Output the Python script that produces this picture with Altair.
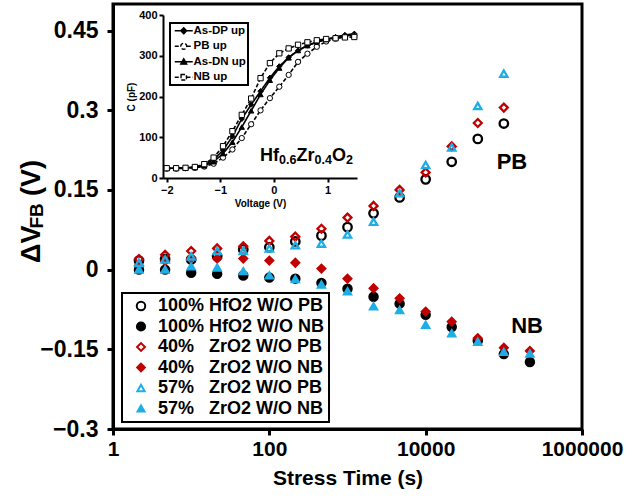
import altair as alt
import pandas as pd

FONT = "Liberation Sans"

# ---------------- main chart data ----------------
stress_time = [2.15, 4.64, 10, 21.5, 46.4, 100, 215, 464, 1000, 2154, 4642,
               10000, 21544, 46416, 100000, 215443]

series_names = [
    "100% HfO2 W/O PB",
    "100% HfO2 W/O NB",
    "40%\u00a0\u00a0 ZrO2 W/O PB",
    "40%\u00a0\u00a0 ZrO2 W/O NB",
    "57%\u00a0\u00a0 ZrO2 W/O PB",
    "57%\u00a0\u00a0 ZrO2 W/O NB",
]

hf_pb = [0.017, 0.020, 0.019, 0.025, 0.038, 0.042, 0.053, 0.064, 0.080, 0.106,
         0.136, 0.170, 0.203, 0.246, 0.275]
hf_nb = [0.000, 0.000, -0.006, -0.008, -0.011, -0.015, -0.017, -0.025, -0.036,
         -0.051, -0.064, -0.085, -0.108, -0.134, -0.159, -0.174]
zr40_pb = [0.020, 0.028, 0.035, 0.040, 0.044, 0.054, 0.062, 0.077, 0.098, 0.120,
           0.150, 0.183, 0.232, 0.276, 0.305]
zr40_nb = [0.008, 0.016, 0.022, 0.021, 0.021, 0.017, 0.013, 0.002, -0.017, -0.035,
           -0.054, -0.079, -0.098, -0.129, -0.147, -0.153]
zr57_pb = [0.013, 0.019, 0.025, 0.035, 0.035, 0.040, 0.046, 0.049, 0.066, 0.090,
           0.144, 0.197, 0.230, 0.308, 0.369]
zr57_nb = [0.000, 0.000, 0.006, 0.004, -0.003, -0.011, -0.018, -0.028, -0.041,
           -0.069, -0.076, -0.104, -0.120, -0.136, -0.155, -0.158]
series_values = [hf_pb, hf_nb, zr40_pb, zr40_nb, zr57_pb, zr57_nb]

x_ticks = [1, 100, 10000, 1000000]
y_ticks = [-0.3, -0.15, 0, 0.15, 0.3, 0.45]

annot_text = ["PB", "NB"]
annot_time = [127000, 198000]
annot_val = [0.203, -0.106]

# ---------------- inset (C-V) data ----------------
voltage = [-2.0, -1.825, -1.65, -1.475, -1.3, -1.125, -0.95, -0.775, -0.6, -0.425,
           -0.25, -0.075, 0.1, 0.275, 0.45, 0.625, 0.8, 0.975, 1.15, 1.325, 1.5]
curve_names = ["As-DP up", "PB up", "As-DN up", "NB up"]
c_asdp = [24, 24, 25, 26, 32, 45, 68, 102, 145, 180, 213, 246, 274, 296, 313, 325,
          333, 340, 346, 351, 354]
c_pb = [23, 23, 24, 25, 28, 35, 50, 70, 98, 132, 166, 196, 224, 253, 285, 305, 322,
        335, 342, 347, 350]
c_asdn = [24, 24, 25, 26, 30, 40, 60, 88, 125, 165, 205, 240, 270, 295, 313, 325,
          334, 340, 345, 349, 351]
c_nb = [24, 24, 25, 27, 34, 50, 78, 115, 155, 195, 245, 282, 306, 318, 327, 333,
        338, 341, 343, 345, 346]
curve_values = [c_asdp, c_pb, c_asdn, c_nb]

inset_x_ticks = [-2, -1, 0, 1]
inset_y_ticks = [0, 100, 200, 300, 400]

formula_parts = ["Hf", "0.6", "Zr", "0.4", "O", "2"]

# ---------------- build tables ----------------
main_rows = []
for name, vals in zip(series_names, series_values):
    for t, v in zip(stress_time, vals):
        main_rows.append({"series": name, "t": t, "v": v})
df_main = pd.DataFrame(main_rows)

cv_rows = []
for name, vals in zip(curve_names, curve_values):
    for vv, c in zip(voltage, vals):
        cv_rows.append({"curve": name, "V": vv, "C": c})
df_cv = pd.DataFrame(cv_rows)

df_annot = pd.DataFrame({"txt": annot_text, "t": annot_time, "v": annot_val})

# ---------------- styles ----------------
BLACK = "#000000"
RED = "#C00000"
BLUE = "#1EAEE6"
stroke_colors = [BLACK, BLACK, RED, RED, BLUE, BLUE]
fill_colors = ["transparent", BLACK, "transparent", RED, "transparent", BLUE]
shapes = ["circle", "circle", "diamond", "diamond", "triangle-up", "triangle-up"]
sizes = [72, 48, 55, 45, 68, 55]

axis_common = dict(domainColor="black", domainWidth=3, tickColor="black", tickWidth=3,
                   tickSize=6, labelFont=FONT, labelFontWeight="bold", labelColor="black",
                   titleFont=FONT, titleFontWeight="bold", titleColor="black", grid=False)

leg_main = alt.Legend(title=None, orient="none", legendX=9, legendY=289, direction="vertical",
                      labelFont=FONT, labelFontSize=18, labelFontWeight="bold",
                      labelColor="black", labelLimit=400, labelOffset=8,
                      symbolStrokeWidth=2, padding=4, rowPadding=2.5, symbolOffset=6,
                      strokeColor="black", fillColor="white")

main_points = alt.Chart(df_main).mark_point(filled=False, strokeWidth=2.3, opacity=1).encode(
    x=alt.X("t:Q", scale=alt.Scale(type="log", domain=[1, 1000000], nice=False),
            axis=alt.Axis(values=x_ticks, format="d", title="Stress Time (s)", labelFlush=False,
                          labelOverlap=False, labelFontSize=21, labelPadding=3,
                          titleFontSize=21, titlePadding=8, **axis_common)),
    y=alt.Y("v:Q", scale=alt.Scale(domain=[-0.3, 0.5], nice=False, zero=False),
            axis=alt.Axis(values=y_ticks, format=".2~f", title=None, labelFontSize=23,
                          labelPadding=9, labelOverlap=False, labelFlush=False, **axis_common)),
    color=alt.Color("series:N", scale=alt.Scale(domain=series_names, range=stroke_colors), legend=leg_main),
    fill=alt.Fill("series:N", scale=alt.Scale(domain=series_names, range=fill_colors), legend=leg_main),
    shape=alt.Shape("series:N", scale=alt.Scale(domain=series_names, range=shapes), legend=leg_main),
    size=alt.Size("series:N", scale=alt.Scale(domain=series_names, range=sizes), legend=leg_main),
)

main_annot = alt.Chart(df_annot).mark_text(font=FONT, fontSize=22, fontWeight="bold", color="black",
                                          align="center", baseline="middle").encode(
    x=alt.X("t:Q"), y=alt.Y("v:Q"), text="txt:N")

main_layer = alt.layer(main_points, main_annot)

# ---------------- inset ----------------
inset_axis = dict(domainColor="black", domainWidth=2, tickColor="black", tickWidth=2,
                  tickSize=4, labelFont=FONT, labelFontSize=11, labelFontWeight="bold",
                  labelColor="black", titleFont=FONT, titleFontSize=10, titleFontWeight="bold",
                  titleColor="black", grid=False, labelPadding=2)

ix = alt.X("V:Q", scale=alt.Scale(domain=[-2.07, 1.55], range=[50, 244], nice=False, zero=False),
           axis=alt.Axis(orient="bottom", offset=-251, values=inset_x_ticks, format="d",
                         title="Voltage (V)", titlePadding=3, labelFlush=False, **inset_axis))
iy = alt.Y("C:Q", scale=alt.Scale(domain=[0, 400], range=[174, 11], nice=False, zero=False),
           axis=alt.Axis(orient="left", offset=-50, values=inset_y_ticks, format="d",
                         title="C (pF)", titlePadding=2, labelFlush=False, **inset_axis))

dash_range = [[1, 0], [4, 2], [1, 0], [4, 2]]
inset_lines = alt.Chart(df_cv).mark_line(color="black", strokeWidth=1.6).encode(
    x=ix, y=iy,
    detail="curve:N",
    strokeDash=alt.StrokeDash("curve:N", scale=alt.Scale(domain=curve_names, range=dash_range), legend=None),
)
inset_points = alt.Chart(df_cv).mark_point(filled=False, size=28, strokeWidth=1, color="black", opacity=1).encode(
    x=ix, y=iy,
    shape=alt.Shape("curve:N", scale=alt.Scale(domain=curve_names,
                    range=["diamond", "circle", "triangle-up", "square"]), legend=None),
    fill=alt.Fill("curve:N", scale=alt.Scale(domain=curve_names,
                  range=["black", "white", "black", "white"]), legend=None),
)
inset_layer = alt.layer(inset_lines, inset_points)

leg_paths = [
    "M-3,0H3M0,-1L1,0L0,1L-1,0Z",
    "M-3,0H-1M1,0H3M-1,0A1,1,0,1,1,1,0A1,1,0,1,1,-1,0Z",
    "M-3,0H3M0,-1L1,0.8L-1,0.8Z",
    "M-3,0H-0.9M0.9,0H3M-0.9,-0.9H0.9V0.9H-0.9Z",
]
leg_inset = alt.Legend(title=None, orient="none", legendX=57, legendY=19, direction="vertical",
                       labelFont=FONT, labelFontSize=11.5, labelFontWeight="bold",
                       labelColor="black", labelLimit=200, labelOffset=4, symbolSize=36,
                       symbolStrokeWidth=1.4, symbolOpacity=1, padding=2, rowPadding=2.5,
                       symbolOffset=6, strokeColor="black", fillColor="white")
inset_legend = alt.Chart(df_cv).transform_filter("datum.C > 100000").mark_point(
    filled=False, opacity=1).encode(
    shape=alt.Shape("curve:N", scale=alt.Scale(domain=curve_names, range=leg_paths), legend=leg_inset),
    fill=alt.Fill("curve:N", scale=alt.Scale(domain=curve_names,
                  range=["black", "white", "black", "white"]), legend=leg_inset),
    color=alt.Color("curve:N", scale=alt.Scale(domain=curve_names, range=["black"] * 4), legend=leg_inset),
    strokeDash=alt.StrokeDash("curve:N", scale=alt.Scale(domain=curve_names, range=dash_range), legend=leg_inset),
)


def piece(txt, x, y, size, angle=0):
    return alt.Chart(pd.DataFrame({"txt": [txt]})).mark_text(
        font=FONT, fontSize=size, fontWeight="bold", color="black", align="left",
        baseline="alphabetic", angle=angle).encode(text="txt:N", x=alt.value(x), y=alt.value(y))


ytitle = [piece("\u0394V", -73, 259, 27, 270), piece("FB", -70, 224.5, 19, 270),
          piece("(V)", -73, 192, 27, 270)]

fx = [147, 166, 183.5, 201.5, 219, 233]
fy = [157, 159.5, 157, 159.5, 157, 159.5]
fs = [18, 12.5, 18, 12.5, 18, 12.5]
formula = [piece(t, x, y, s) for t, x, y, s in zip(formula_parts, fx, fy, fs)]

chart = alt.layer(main_layer, inset_layer, inset_legend, *ytitle, *formula).resolve_scale(
    x="independent", y="independent", color="independent", fill="independent",
    shape="independent", strokeDash="independent", size="independent"
).properties(
    width=469, height=425, autosize="none",
    padding={"left": 113, "top": 4, "right": 62, "bottom": 71},
).configure_view(stroke="black", strokeWidth=3).configure_legend(strokeWidth=2)

chart.save("out.html", embed_options={"renderer": "svg", "actions": False})
